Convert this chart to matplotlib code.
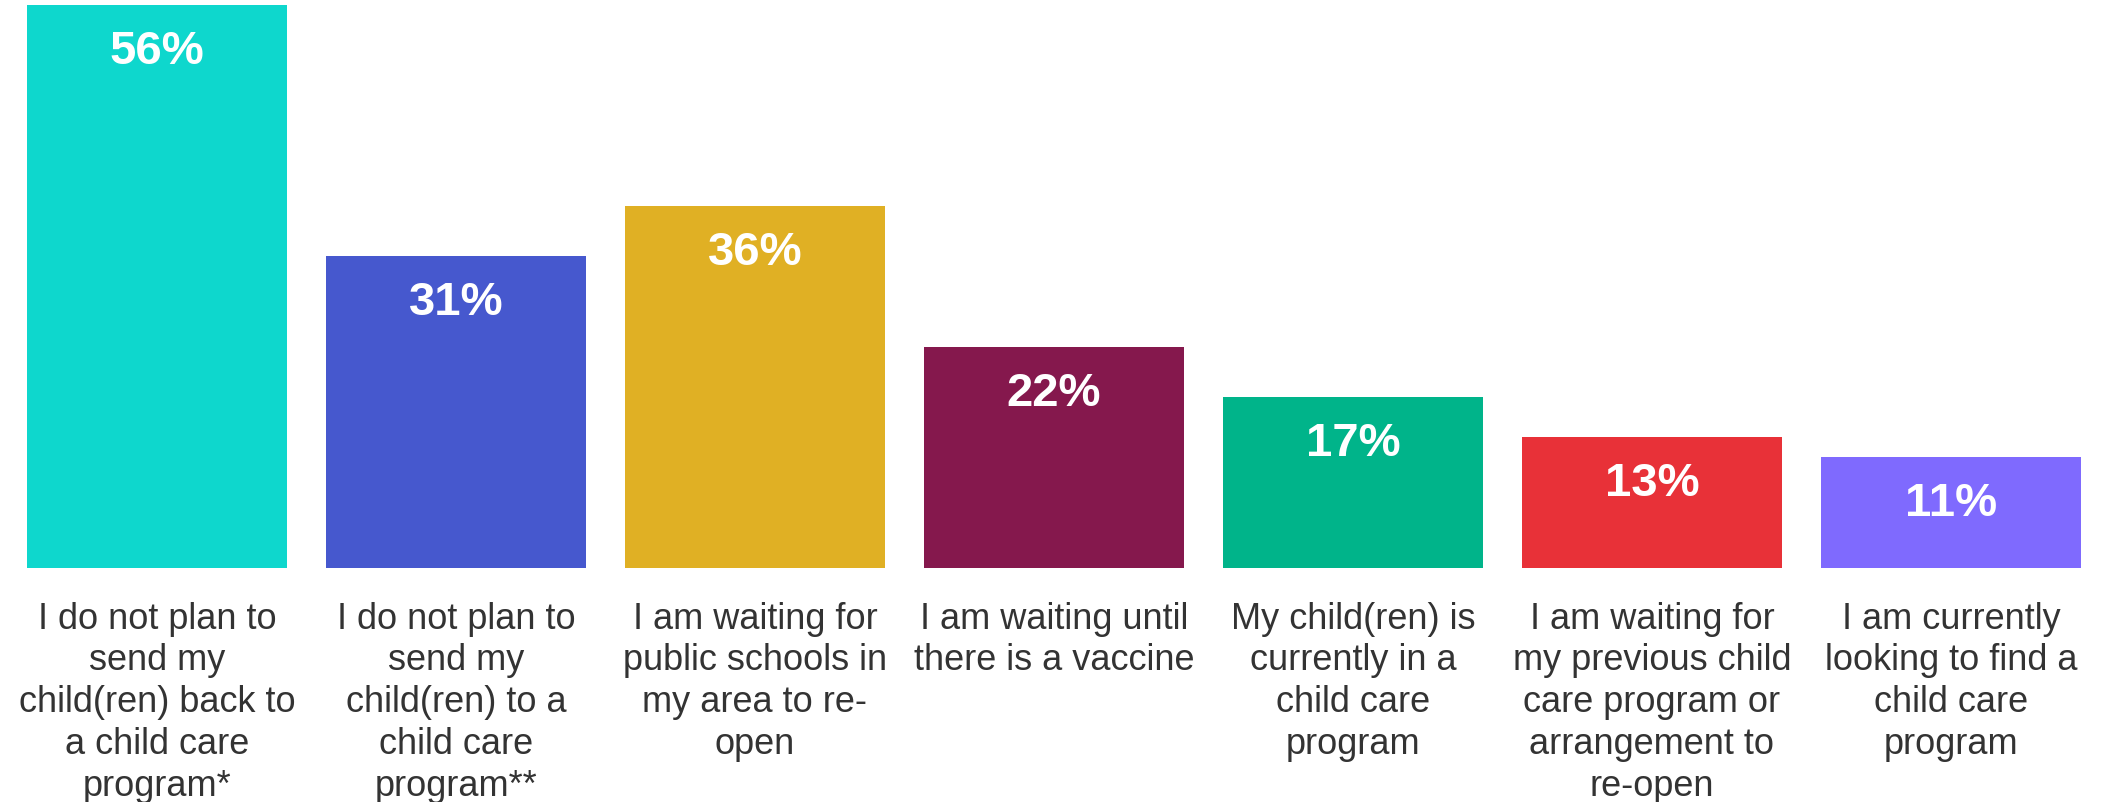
import matplotlib
matplotlib.use("Agg")
import matplotlib.pyplot as plt

categories = [
    "I do not plan to\nsend my\nchild(ren) back to\na child care\nprogram*",
    "I do not plan to\nsend my\nchild(ren) to a\nchild care\nprogram**",
    "I am waiting for\npublic schools in\nmy area to re-\nopen",
    "I am waiting until\nthere is a vaccine",
    "My child(ren) is\ncurrently in a\nchild care\nprogram",
    "I am waiting for\nmy previous child\ncare program or\narrangement to\nre-open",
    "I am currently\nlooking to find a\nchild care\nprogram",
]
values = [56, 31, 36, 22, 17, 13, 11]
colors = ["#0ED7CD", "#4658CE", "#E0B024", "#85184D", "#00B48A", "#E83138", "#7F6AFE"]

W, H, DPI = 2102, 803, 100
fig = plt.figure(figsize=(W / DPI, H / DPI), dpi=DPI)
bottom_px = 568.7
top_px = 6.0
ax = fig.add_axes([0, (H - bottom_px) / H, 1, (bottom_px - top_px) / H])

pitch = 299.0
c0 = 157.0
x = list(range(len(values)))
ax.bar(x, values, width=260 / pitch, color=colors, linewidth=0)
ax.set_xlim(-c0 / pitch, (W - c0) / pitch)
ax.set_ylim(0, 56)
ax.axis("off")

px2pt = 72.0 / DPI
for i, v in enumerate(values):
    ax.annotate(f"{v}%", xy=(i, v), xytext=(0, -24 * px2pt), textcoords="offset points",
                ha="center", va="top", color="white", fontsize=34,
                fontweight="bold", family="Liberation Sans")
    ax.annotate(categories[i], xy=(i, 0), xytext=(0, -33 * px2pt), textcoords="offset points",
                ha="center", va="top", color="#333333", fontsize=26,
                family="Liberation Sans", linespacing=1.25, annotation_clip=False)

fig.savefig("out.png", dpi=DPI, facecolor="white")
